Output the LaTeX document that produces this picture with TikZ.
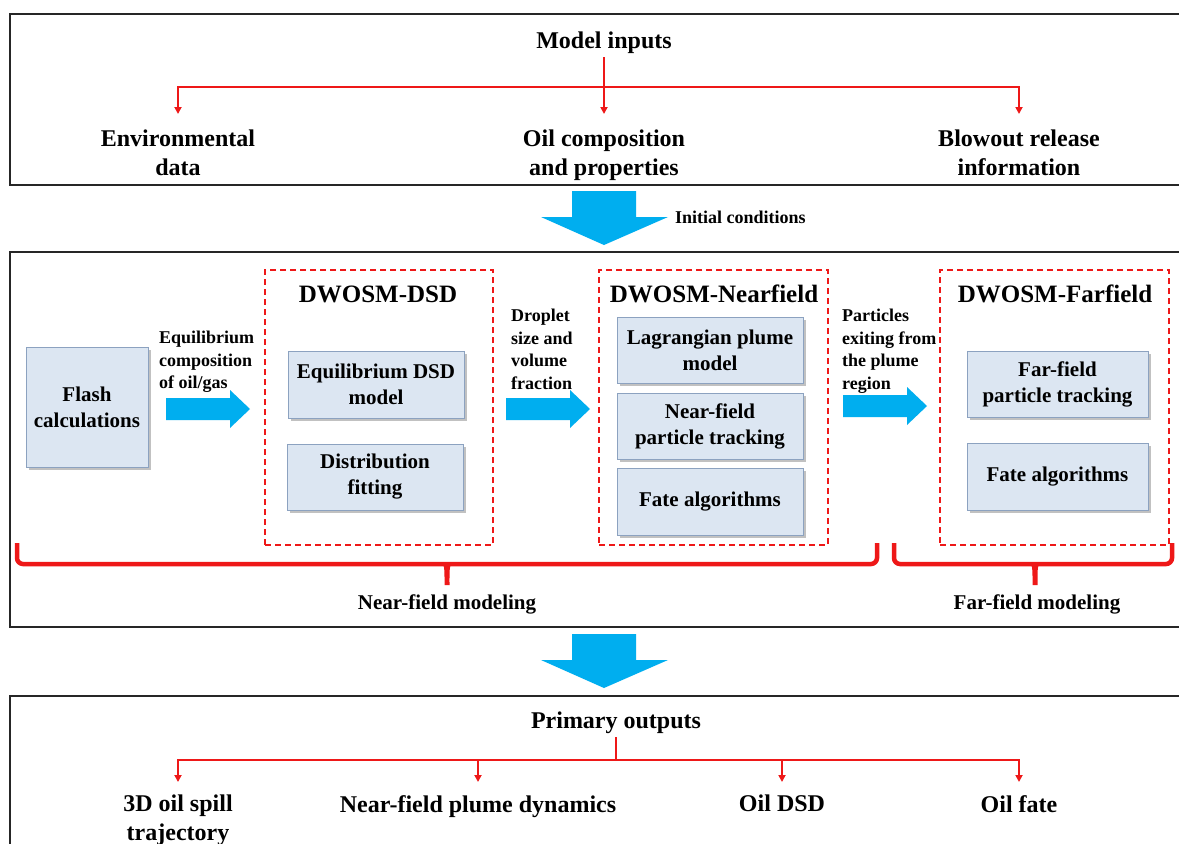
\documentclass[tikz,border=0pt]{standalone}
\usepackage{fontspec}
\setmainfont{Liberation Serif}
\usetikzlibrary{arrows.meta,shadows}

\definecolor{flowblue}{RGB}{0,174,239}
\definecolor{linered}{RGB}{238,24,24}
\definecolor{boxfill}{RGB}{220,230,242}
\definecolor{boxline}{RGB}{140,162,192}
\newcommand\setfs[2]{\fontsize{#1}{#2}\selectfont\bfseries}

\tikzset{
  panel/.style={draw=black!85, line width=2pt},
  group/.style={draw=linered, line width=1.6pt, dash pattern=on 6pt off 4pt, inner sep=0pt},
  proc/.style={draw=boxline, fill=boxfill, line width=1pt, align=center, inner sep=0pt,
    font=\setfs{21}{26},
    drop shadow={shadow xshift=2.5pt, shadow yshift=-2.5pt, fill=black!40, opacity=0.6}},
  lbl/.style={font=\setfs{24}{29}, align=center, inner sep=0pt},
  note/.style={font=\setfs{18}{22.5}, align=left, inner sep=0pt},
  ttl/.style={font=\setfs{25}{30}, inner sep=0pt},
  brlbl/.style={font=\setfs{21}{25}, inner sep=0pt},
  tree/.style={draw=linered, line width=1.8pt},
  treearrow/.style={tree, -{Triangle[length=7pt,width=7pt]}},
  brace/.style={draw=linered, line width=4.5pt, rounded corners=6pt},
  fatright/.pic={\fill[flowblue] (0,-11) -- (64,-11) -- (64,-19) -- (84,0) -- (64,19) -- (64,11) -- (0,11) -- cycle;},
  fatdown/.pic={\fill[flowblue] (-32,0) -- (32,0) -- (32,26) -- (64,26) -- (0,54) -- (-63,26) -- (-32,26) -- cycle;},
  bracetip/.pic={\fill[linered] (-8,-2) .. controls (-2,-1) and (-2.5,4) .. (-2.5,21) -- (2.5,21) .. controls (2.5,4) and (2,-1) .. (8,-2) -- cycle;}
}

\begin{document}
\begin{tikzpicture}[x=1pt,y=-1pt]
\useasboundingbox (0,0) rectangle (1179,844);
\clip (0,0) rectangle (1179,844);
\fill[white] (0,0) rectangle (1179,844);

% ---------- model inputs ----------
\draw[panel] (10,14) rectangle (1195,185);
\node[lbl, anchor=base] (mi) at (604,48) {Model inputs};
\node[lbl, anchor=north] (env)  at (178,130)  {Environmental\\data};
\node[lbl, anchor=north] (oil)  at (604,130)  {Oil composition\\and properties};
\node[lbl, anchor=north] (blow) at (1019,130) {Blowout release\\information};
\coordinate (inbus) at (604,87);
\draw[treearrow, shorten <=4pt, shorten >=16pt] (mi.south) -- (oil.north);
\draw[treearrow, shorten >=16pt] (inbus) -| (env.north);
\draw[treearrow, shorten >=16pt] (inbus) -| (blow.north);

\pic at (604,191) {fatdown};
\node[font=\setfs{18}{22}, inner sep=0pt, anchor=west] (init) at (675,217) {Initial conditions};

% ---------- modelling chain ----------
\draw[panel] (10,252) rectangle (1195,627);

\node[proc, minimum width=122pt, minimum height=120pt] (flash) at (87,407) {Flash\\calculations};

\node[group, minimum width=228pt, minimum height=275pt] (dsd) at (379,407.5) {};
\node[ttl] (dsdt) at (378,294) {DWOSM-DSD};
\node[proc, minimum width=176pt, minimum height=67pt] (eqdsd) at (376,384.5) {Equilibrium DSD\\model};
\node[proc, minimum width=176pt, minimum height=66pt] (fit) at (375,477) {Distribution\\fitting};

\node[group, minimum width=229pt, minimum height=275pt] (near) at (713.5,407.5) {};
\node[ttl] (neart) at (714,294) {DWOSM-Nearfield};
\node[proc, minimum width=186pt, minimum height=66pt] (lagr) at (710,350) {Lagrangian plume\\model};
\node[proc, minimum width=186pt, minimum height=66pt] (nftr) at (710,426) {Near-field\\particle tracking};
\node[proc, minimum width=186pt, minimum height=67pt] (nffate) at (710,501.5) {Fate algorithms};

\node[group, minimum width=229pt, minimum height=275pt] (far) at (1054.5,407.5) {};
\node[ttl] (fart) at (1055,294) {DWOSM-Farfield};
\node[proc, minimum width=181pt, minimum height=66pt] (fftr) at (1057.5,384) {Far-field\\particle tracking};
\node[proc, minimum width=181pt, minimum height=67pt] (fffate) at (1057.5,476.5) {Fate algorithms};

\pic at (166,409) {fatright};
\pic at (506,409) {fatright};
\pic at (843,406) {fatright};
\node[note, anchor=north west] (eqlbl) at (159,331) {Equilibrium\\composition\\of oil/gas};
\node[note, anchor=north west] (droplbl) at (511,309) {Droplet\\size and\\volume\\fraction};
\node[note, anchor=north west] (partlbl) at (842,309) {Particles\\exiting from\\the plume\\region};

\draw[brace] (17,543) -- (17,564) -- (877,564) -- (877,543);
\pic at (447,564) {bracetip};
\draw[brace] (894,543) -- (894,564) -- (1172,564) -- (1172,543);
\pic at (1035,564) {bracetip};
\node[brlbl] (nfm) at (447,604) {Near-field modeling};
\node[brlbl] (ffm) at (1037,604) {Far-field modeling};

\pic at (604,634) {fatdown};

% ---------- primary outputs ----------
\draw[panel] (10,696) rectangle (1195,870);
\node[lbl, anchor=base] (po) at (616,728) {Primary outputs};
\node[lbl, anchor=north] (traj)  at (178,795) {3D oil spill\\trajectory};
\node[lbl, anchor=north] (plume) at (478,795) {Near-field plume dynamics};
\node[lbl, anchor=north] (odsd)  at (782,795) {Oil DSD};
\node[lbl, anchor=north] (ofate) at (1019,795) {Oil fate};
\coordinate (outbus) at (616,760);
\draw[tree, shorten <=4pt] (po.south) -- (outbus);
\draw[treearrow, shorten >=13pt] (outbus) -| (traj.north);
\draw[treearrow, shorten >=13pt] (outbus) -| (plume.north);
\draw[treearrow, shorten >=13pt] (outbus) -| (odsd.north);
\draw[treearrow, shorten >=13pt] (outbus) -| (ofate.north);
\end{tikzpicture}
\end{document}
